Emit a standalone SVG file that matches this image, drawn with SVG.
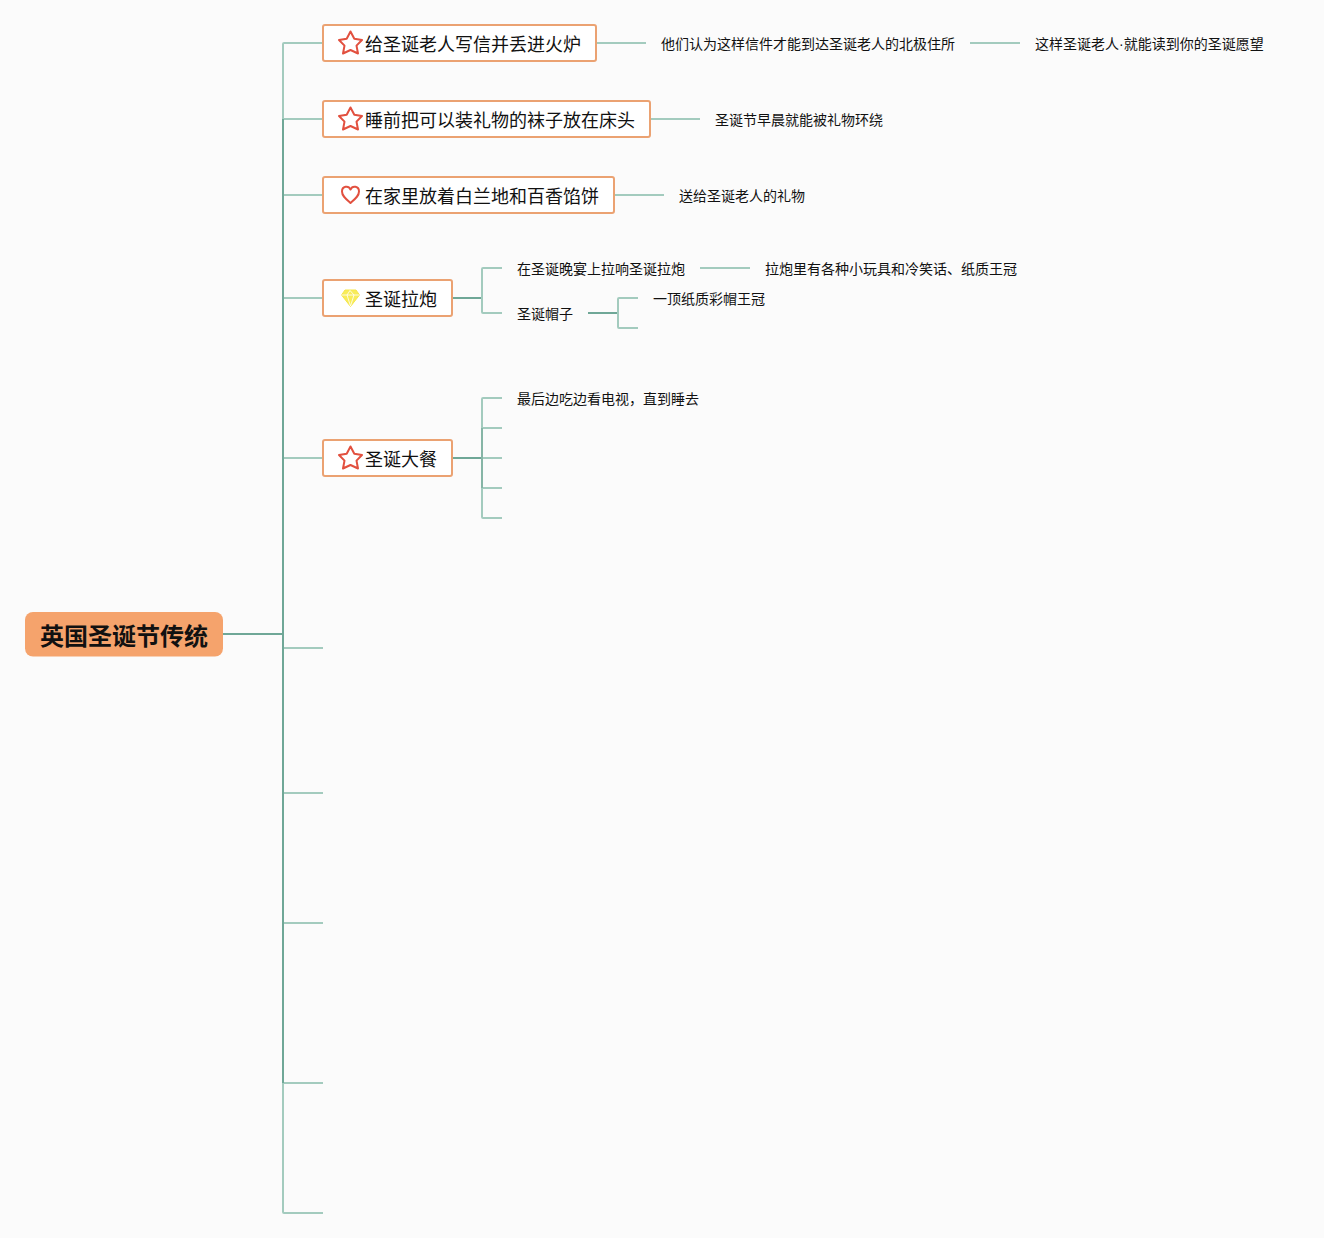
<svg xmlns="http://www.w3.org/2000/svg" width="1324" height="1238" viewBox="0 0 1324 1238">
<style>
text{font-family:"Noto Sans CJK SC","Liberation Sans",sans-serif;fill:#111}
.r{font-size:24px;font-weight:700}
.m{font-size:18px}
.d{font-size:14px}
.b{fill:#fff;stroke:#eba272;stroke-width:2}
.l{fill:none;stroke:#a3cbbe;stroke-width:2}
.k{fill:none;stroke:#6fa797;stroke-width:2}
.s{fill:#fff;stroke:#e2503f;stroke-width:2;stroke-linejoin:round}
</style>
<defs>
<path id="star" class="s" d="M0-11.500L3.800-4.300L11.500-3L6 2.600L7.500 10.500L0 7L-7.500 10.500L-6 2.600L-11.500-3L-3.800-4.300Z"/>
</defs>
<rect width="1324" height="1238" fill="#fbfbfb"/>
<g id="connectors">
<path class="l" d="M323 43H284Q283 43 283 44V1212Q283 1213 284 1213H323"/>
<path class="k" d="M283 119V1083"/>
<path class="k" d="M223 634H283"/>
<path class="l" d="M284 119H323M284 195H323M284 298H323M284 458H323M284 648H323M284 793H323M284 923H323M284 1083H323"/>
<path class="l" d="M596 43H646M970 43H1020M650 119H700M614 195H664"/>
<path class="k" d="M453 298H482"/>
<path class="l" d="M502 268H483Q482 268 482 269V312Q482 313 483 313H502"/>
<path class="l" d="M700 268H750"/>
<path class="k" d="M588 313H618"/>
<path class="l" d="M638 298H619Q618 298 618 299V327Q618 328 619 328H638"/>
<path class="k" d="M453 458H482"/>
<path class="l" d="M502 398H483Q482 398 482 399V517Q482 518 483 518H502M482 428H502M482 458H502M482 488H502"/>
<path class="k" style="stroke:#86b5a6" d="M482 428V488"/>
</g>
<g id="root"><rect x="25" y="612" width="198" height="44.500" rx="8" fill="#f5a36c"/><text class="r" x="40" y="645">英国圣诞节传统</text></g>
<g id="n1"><rect class="b" x="323" y="25" width="273" height="36" rx="2"/><use href="#star" x="350.500" y="43"/><text class="m" x="365" y="51">给圣诞老人写信并丢进火炉</text></g>
<g id="n2"><rect class="b" x="323" y="101" width="327" height="36" rx="2"/><use href="#star" x="350.500" y="119"/><text class="m" x="365" y="127">睡前把可以装礼物的袜子放在床头</text></g>
<g id="n3"><rect class="b" x="323" y="177" width="291" height="36" rx="2"/><path class="s" d="M350.500 203C346 199 342 196 342 191.500C342 186 348.500 185 350.500 189.500C352.500 185 359 186 359 191.500C359 196 355 199 350.500 203Z"/><text class="m" x="365" y="203">在家里放着白兰地和百香馅饼</text></g>
<g id="n4"><rect class="b" x="323" y="280" width="129" height="36" rx="2"/><path d="M345 290H356L359.500 295L350.500 306.500L341.500 295Z" fill="#f8ec5a" stroke="#f5e64a" stroke-width="1" stroke-linejoin="round"/><path d="M341.500 295H359.500M347 295L350.500 306M354 295L350.500 306M347 295L350 290.500L354 295" fill="none" stroke="#fff" stroke-width=".8"/><text class="m" x="365" y="306">圣诞拉炮</text></g>
<g id="n5"><rect class="b" x="323" y="440" width="129" height="36" rx="2"/><use href="#star" x="350.500" y="458"/><text class="m" x="365" y="466">圣诞大餐</text></g>
<g id="t1"><text class="d" x="661" y="49">他们认为这样信件才能到达圣诞老人的北极住所</text></g>
<g id="t2"><text class="d" x="1035" y="49">这样圣诞老人<tspan style="font-family:'Liberation Sans',sans-serif">·</tspan>就能读到你的圣诞愿望</text></g>
<g id="t3"><text class="d" x="715" y="125">圣诞节早晨就能被礼物环绕</text></g>
<g id="t4"><text class="d" x="679" y="201">送给圣诞老人的礼物</text></g>
<g id="t5"><text class="d" x="517" y="274">在圣诞晚宴上拉响圣诞拉炮</text></g>
<g id="t6"><text class="d" x="765" y="274">拉炮里有各种小玩具和冷笑话、纸质王冠</text></g>
<g id="t7"><text class="d" x="517" y="319">圣诞帽子</text></g>
<g id="t8"><text class="d" x="653" y="304">一顶纸质彩帽王冠</text></g>
<g id="t9"><text class="d" x="517" y="404">最后边吃边看电视，直到睡去</text></g>
</svg>
